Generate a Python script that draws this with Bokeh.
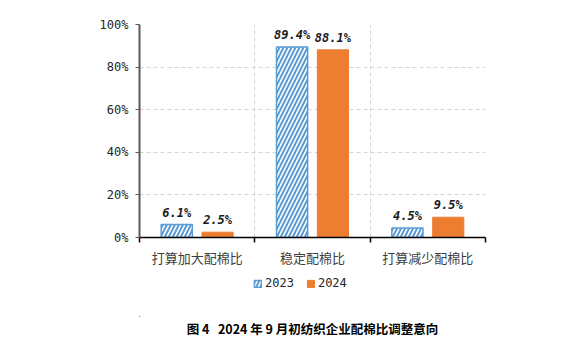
from bokeh.plotting import figure
from bokeh.layouts import column
from bokeh.models import (ColumnDataSource, FixedTicker, NumeralTickFormatter, Legend,
                          LegendItem, Title, LinearAxis)
from bokeh.core.properties import value
from bokeh.embed import file_html
from bokeh.resources import INLINE

categories = ["打算加大配棉比", "稳定配棉比", "打算减少配棉比"]
years = ["2023", "2024"]
values_2023 = [6.1, 89.4, 4.5]
values_2024 = [2.5, 88.1, 9.5]
y_ticks = [0, 20, 40, 60, 80, 100]
title_text = "图 4\u00a0\u00a0\u00a02024 年 9 月初纺织企业配棉比调整意向"

blue = "#5B9BD5"
orange = "#ED7D31"

centers = [i + 0.5 for i in range(len(categories))]
offset = 0.177
bw = 0.27

src23 = ColumnDataSource(dict(x=[c - offset for c in centers], top=[v / 100 for v in values_2023],
                              lab=[f"{v:.1f}%" for v in values_2023]))
src24 = ColumnDataSource(dict(x=[c + offset for c in centers], top=[v / 100 for v in values_2024],
                              lab=[f"{v:.1f}%" for v in values_2024]))

style23 = dict(fill_color="white", line_color=blue, line_width=1.5, hatch_pattern="/",
               hatch_color=blue, hatch_weight=2, hatch_scale=8)
style24 = dict(fill_color=orange, line_color=orange)

p = figure(width=572, height=270, output_backend="svg", toolbar_location=None,
           x_range=(0, len(categories)), y_range=(0, 1),
           min_border_left=139, min_border_right=87, min_border_top=24, min_border_bottom=33,
           x_axis_location=None, y_axis_location=None)
p.outline_line_color = None

p.vbar(x="x", top="top", width=bw, source=src23, **style23)
p.vbar(x="x", top="top", width=bw, source=src24, **style24)

for s in (src23, src24):
    p.text(x="x", y="top", text="lab", source=s, text_align="center", text_baseline="bottom",
           y_offset=-5, text_font=value("DejaVu Sans Mono"), text_font_style="bold italic",
           text_font_size="12px", text_color="#1a1a1a")

# y axis
yaxis = LinearAxis(ticker=FixedTicker(ticks=[t / 100 for t in y_ticks]),
                   formatter=NumeralTickFormatter(format="0%"))
yaxis.axis_line_color = "#595959"
yaxis.axis_line_width = 2
yaxis.major_tick_in = 0
yaxis.major_tick_out = 4
yaxis.major_tick_line_color = "#595959"
yaxis.minor_tick_line_color = None
yaxis.major_label_text_font = "DejaVu Sans Mono"
yaxis.major_label_text_font_size = "12px"
yaxis.major_label_text_color = "#262626"
yaxis.major_label_standoff = 7
p.add_layout(yaxis, "left")

# x axis
xaxis = LinearAxis(ticker=FixedTicker(ticks=centers, minor_ticks=list(range(len(categories) + 1))))
xaxis.major_label_overrides = {c: name for c, name in zip(centers, categories)}
xaxis.axis_line_color = "black"
xaxis.axis_line_width = 1.5
xaxis.major_tick_in = 0
xaxis.major_tick_out = 0
xaxis.minor_tick_in = 0
xaxis.minor_tick_out = 5
xaxis.minor_tick_line_color = "black"
xaxis.minor_tick_line_width = 1.5
xaxis.major_label_text_font = "Noto Sans CJK SC"
xaxis.major_label_text_font_size = "13px"
xaxis.major_label_text_color = "#404040"
xaxis.major_label_standoff = 5
p.add_layout(xaxis, "below")

p.ygrid.ticker = FixedTicker(ticks=[t / 100 for t in y_ticks[1:]])
p.ygrid.grid_line_color = "#d4d4d4"
p.ygrid.grid_line_dash = "4 3"
p.xgrid.ticker = FixedTicker(ticks=list(range(1, len(categories) + 1)))
p.xgrid.grid_line_color = "#d4d4d4"
p.xgrid.grid_line_dash = "4 3"

# legend + caption panel (its own far-off ranges keep the proxy bars out of view)
q = figure(width=572, height=81, output_backend="svg", toolbar_location=None,
           x_range=(100, 101), y_range=(100, 101),
           min_border_left=139, min_border_right=87, min_border_top=0, min_border_bottom=35,
           x_axis_location=None, y_axis_location=None)
q.outline_line_color = None
q.grid.visible = False
g23 = q.vbar(x="x", top="top", width=bw, source=src23, **style23)
g24 = q.vbar(x="x", top="top", width=bw, source=src24, **style24)

legend = Legend(items=[LegendItem(label=years[0], renderers=[g23]),
                       LegendItem(label=years[1], renderers=[g24])],
                orientation="horizontal", location=(114, 26),
                label_text_font="DejaVu Sans Mono", label_text_font_size="12px",
                label_text_color="#262626", glyph_width=9, glyph_height=9,
                label_standoff=3, spacing=12, border_line_color=None,
                background_fill_alpha=0, padding=2, margin=0)
q.add_layout(legend, "center")

t = Title(text=title_text, align="center", text_font="Noto Sans CJK SC",
          text_font_style="bold", text_font_size="12.5px", text_color="black",
          standoff=0)
q.add_layout(t, "below")

layout = column(p, q, spacing=0)
open("out.html", "w").write(file_html(layout, INLINE))
